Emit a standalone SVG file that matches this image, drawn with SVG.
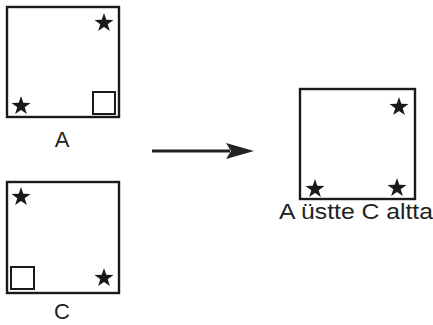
<svg xmlns="http://www.w3.org/2000/svg" width="433" height="325" viewBox="0 0 433 325">
<style>
.box{fill:none;stroke:#1a1a1a;stroke-width:2.4}
.sq{fill:none;stroke:#1a1a1a;stroke-width:2}
.lbl{font-family:"Liberation Sans",Arial,sans-serif;font-size:22px;fill:#222}
.star{fill:#1a1a1a}
</style>
<defs>
<path id="star" class="star" d="M0,-10 L2.3,-3.15 L9.5,-3.1 L3.7,1.2 L5.9,8.1 L0,3.9 L-5.9,8.1 L-3.7,1.2 L-9.5,-3.1 L-2.3,-3.15 Z"/>
</defs>
<rect width="433" height="325" fill="#fff"/>
<g id="nodeA">
<rect class="box" x="7" y="7" width="112" height="110"/>
<use href="#star" x="104" y="23"/>
<use href="#star" x="21" y="106"/>
<rect class="sq" x="93" y="92" width="22" height="22"/>
<text class="lbl" x="62" y="147" text-anchor="middle">A</text>
</g>
<g id="nodeC">
<rect class="box" x="7" y="182" width="112" height="111"/>
<use href="#star" x="21" y="197"/>
<use href="#star" x="104" y="278"/>
<rect class="sq" x="11" y="267" width="23" height="22"/>
<text class="lbl" x="62" y="319" text-anchor="middle">C</text>
</g>
<g id="nodeResult">
<rect class="box" x="300" y="89" width="115" height="110"/>
<use href="#star" x="399" y="107"/>
<use href="#star" x="315" y="189"/>
<use href="#star" x="397" y="188"/>
<text class="lbl" x="279" y="219" textLength="154" lengthAdjust="spacingAndGlyphs">A üstte C altta</text>
</g>
<g id="connectors">
<path d="M152,151 L230,151" stroke="#222" stroke-width="3" fill="none"/>
<path d="M226,143 L254,151 L226,159 L231,151 Z" fill="#222"/>
</g>
</svg>
